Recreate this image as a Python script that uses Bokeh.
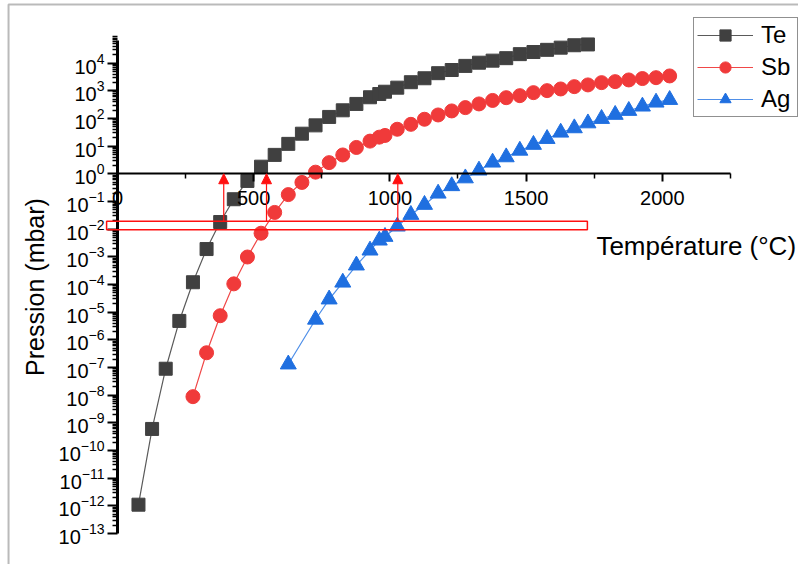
from bokeh.plotting import figure
from bokeh.models import (FixedTicker, LogTickFormatter, Legend, LegendItem,
                          BoxAnnotation, Arrow, NormalHead, Label, Range1d)
from bokeh.embed import file_html
from bokeh.resources import INLINE

# ---------------- data ----------------
te_T = [77, 127, 177, 227, 277, 327, 377, 427, 477, 527, 577, 627, 677, 727, 777,
        827, 877, 927, 961, 982, 1027, 1077, 1127, 1177, 1227, 1277, 1327, 1377,
        1427, 1477, 1527, 1577, 1627, 1677, 1727]
te_P = [1.1e-12, 6e-10, 9e-8, 4.8e-6, 1.2e-4, 1.9e-3, 0.018, 0.12, 0.55, 1.8, 4.8,
        12, 28, 56, 113, 196, 333, 580, 760, 920, 1290, 2030, 2820, 4300, 5600,
        7900, 1.03e4, 1.22e4, 1.5e4, 2.1e4, 2.5e4, 3.0e4, 3.6e4, 4.4e4, 4.7e4]

sb_T = [277, 327, 377, 427, 477, 527, 577, 627, 677, 727, 777, 827, 877, 927, 961,
        982, 1027, 1077, 1127, 1177, 1227, 1277, 1327, 1377, 1427, 1477, 1527, 1577,
        1627, 1677, 1727, 1777, 1827, 1877, 1927, 1977, 2027]
sb_P = [8.8e-9, 3.4e-7, 7.4e-6, 1.05e-4, 9.8e-4, 7.1e-3, 0.040, 0.176, 0.485, 1.14,
        2.52, 4.77, 8.9, 15.1, 21, 24.2, 40.5, 61, 93, 133, 186, 245, 333, 445, 560,
        663, 853, 1007, 1157, 1405, 1620, 1960, 2130, 2450, 2750, 2960, 3420]

ag_T = [627, 727, 777, 827, 877, 927, 961, 982, 1027, 1077, 1127, 1177, 1227, 1277,
        1327, 1377, 1427, 1477, 1527, 1577, 1627, 1677, 1727, 1777, 1827, 1877, 1927,
        1977, 2027]
ag_P = [1.3e-7, 5.4e-6, 2.9e-5, 1.18e-4, 4.9e-4, 1.7e-3, 3.9e-3, 5.3e-3, 0.0125,
        0.033, 0.076, 0.194, 0.36, 0.69, 1.32, 2.56, 3.98, 6.9, 11.2, 18.3, 31, 44.5,
        67, 97, 136, 189, 271, 377, 470]

series_names = ["Te", "Sb", "Ag"]

x_major = [0, 500, 1000, 1500, 2000]
x_minor = [250, 750, 1250, 1750, 2250]
x_axis_bounds = (0, 2250)
y_major = [10.0 ** k for k in range(-13, 5)]
y_minor = [m * 10.0 ** k for k in range(-13, 5) for m in range(2, 10)]
y_axis_bounds = (1e-13, 10 ** 4.82)

# highlighted pressure window and arrow temperatures
window_left, window_right = -40, 1725
window_bottom, window_top = 0.0095, 0.0193
arrow_x = [390, 547, 1029]

FONT = "Liberation Sans"

p = figure(width=798, height=564,
           x_range=Range1d(-429.5, 2500), y_range=Range1d(10 ** -14.12, 10 ** 6.26),
           y_axis_type="log", output_backend="svg", toolbar_location=None,
           min_border_left=0, min_border_right=0,
           min_border_top=0, min_border_bottom=0)
p.outline_line_color = None
p.xgrid.grid_line_color = None
p.ygrid.grid_line_color = None
p.background_fill_color = "white"
p.border_fill_color = "white"

# thin frame around the whole picture (top and left edges visible)
p.add_layout(BoxAnnotation(left=-400, right=2700, top=10 ** 6.115, bottom=1e-16,
                           fill_alpha=0, line_color="#1a1a1a", line_width=2))

# x axis crossing at P = 1 mbar
xa = p.xaxis[0]
xa.fixed_location = 1
xa.bounds = x_axis_bounds
xa.ticker = FixedTicker(ticks=x_major, minor_ticks=x_minor)
xa.axis_line_width = 2
xa.axis_line_color = "black"
xa.major_tick_out = 8
xa.major_tick_in = 0
xa.major_tick_line_width = 2
xa.minor_tick_out = 5
xa.minor_tick_in = 0
xa.minor_tick_line_width = 1.5
xa.major_label_text_font = FONT
xa.major_label_text_font_size = "20px"
xa.major_label_text_color = "black"
xa.major_label_standoff = 9

# y axis at T = 0
ya = p.yaxis[0]
ya.fixed_location = 0
ya.bounds = y_axis_bounds
ya.ticker = FixedTicker(ticks=y_major, minor_ticks=y_minor)
ya.formatter = LogTickFormatter()
ya.axis_line_width = 3
ya.axis_line_color = "black"
ya.major_tick_out = 10
ya.major_tick_in = 0
ya.major_tick_line_width = 2
ya.minor_tick_out = 5
ya.minor_tick_in = 0
ya.minor_tick_line_width = 1.5
ya.major_label_text_font = FONT
ya.major_label_text_font_size = "20px"
ya.major_label_text_color = "black"
ya.major_label_standoff = 3
ya.axis_label = "Pression (mbar)"
ya.axis_label_text_font = FONT
ya.axis_label_text_font_size = "25px"
ya.axis_label_text_font_style = "normal"
ya.axis_label_text_color = "black"
ya.axis_label_standoff = 7

colors = {"Te": ("#404040", "#5a5a5a"),
          "Sb": ("#f03a3a", "#f04848"),
          "Ag": ("#1f6fe0", "#4f8fe8")}
markers = {"Te": ("square", 13), "Sb": ("circle", 14), "Ag": ("triangle", 16)}
data = {"Te": (te_T, te_P), "Sb": (sb_T, sb_P), "Ag": (ag_T, ag_P)}

items = []
for name in series_names:
    xs, ys = data[name]
    mc, lc = colors[name]
    mk, sz = markers[name]
    lr = p.line(xs, ys, line_color=lc, line_width=1.2)
    sr = p.scatter(xs, ys, marker=mk, size=sz, fill_color=mc, line_color=mc)
    items.append(LegendItem(label=name, renderers=[lr, sr]))

legend = Legend(items=items, location=(693, 447), padding=3, spacing=4, margin=0,
                glyph_width=56, glyph_height=28, label_height=28, label_width=33,
                label_standoff=8, label_text_font=FONT, label_text_font_size="24px",
                label_text_color="black", border_line_color="#222222",
                border_line_width=1.5, background_fill_color="white",
                background_fill_alpha=1)
p.add_layout(legend)

box = BoxAnnotation(left=window_left, right=window_right, bottom=window_bottom,
                    top=window_top, fill_alpha=0, line_color="#ff1010",
                    line_width=1.5, line_alpha=1)
p.add_layout(box)

for ax in arrow_x:
    p.add_layout(Arrow(end=NormalHead(size=10, fill_color="#ff1010",
                                      line_color="#ff1010", line_width=1),
                       x_start=ax, y_start=window_top, x_end=ax, y_end=1.0,
                       line_color="#ff1010", line_width=1.2))

p.add_layout(Label(x=1758, y=0.00236, text="Température (°C)", text_font=FONT,
                   text_font_size="26px", text_color="black",
                   text_baseline="alphabetic", text_align="left"))

open("out.html", "w").write(file_html(p, INLINE))
